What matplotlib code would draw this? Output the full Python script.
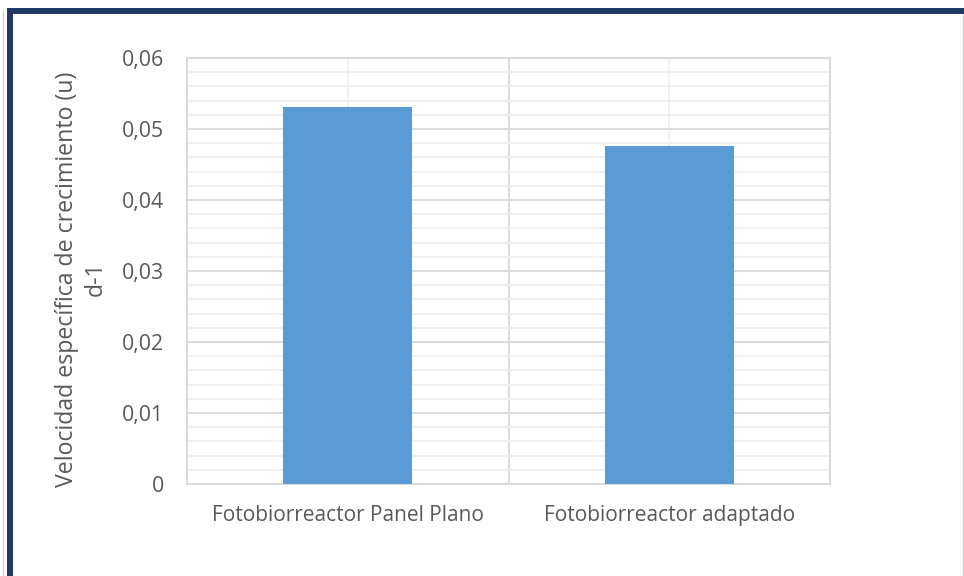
import matplotlib
matplotlib.use("Agg")
import matplotlib.pyplot as plt
from matplotlib.lines import Line2D
from matplotlib.ticker import MultipleLocator, FixedLocator, FuncFormatter

categories = ["Fotobiorreactor Panel Plano", "Fotobiorreactor adaptado"]
growth_rate = [0.0531, 0.0476]
y_ticks = [0, 0.01, 0.02, 0.03, 0.04, 0.05, 0.06]
y_label = "Velocidad específica de crecimiento (u)\nd-1"

plt.rcParams["font.family"] = ["Open Sans", "DejaVu Sans"]
text_color = "#595959"
bar_color = "#5B9BD5"
major_grid = "#D9D9D9"
minor_grid = "#F0F0F0"

W, H = 964, 576
fig = plt.figure(figsize=(W / 100, H / 100), dpi=100)
fig.patch.set_facecolor("white")

left, right, top, bottom = 187, 830, 58, 484
ax = fig.add_axes([left / W, 1 - bottom / H, (right - left) / W, (bottom - top) / H])

x = list(range(len(categories)))
ax.bar(x, growth_rate, width=0.4, color=bar_color, zorder=3)

ax.set_xlim(-0.5, len(categories) - 0.5)
ax.set_ylim(y_ticks[0], y_ticks[-1])

ax.yaxis.set_major_locator(FixedLocator(y_ticks))
ax.yaxis.set_minor_locator(MultipleLocator(0.002))
ax.yaxis.set_major_formatter(FuncFormatter(
    lambda v, p: "0" if abs(v) < 1e-12 else f"{v:.2f}".replace(".", ",")))

ax.xaxis.set_major_locator(FixedLocator(x))
ax.xaxis.set_minor_locator(FixedLocator([-0.5, 0.5, 1.5]))
ax.set_xticklabels(categories)

ax.grid(which="major", axis="y", color=major_grid, linewidth=1.3, zorder=0)
ax.grid(which="minor", axis="y", color=minor_grid, linewidth=1.3, zorder=0)
ax.grid(which="minor", axis="x", color=major_grid, linewidth=1.3, zorder=0)
ax.grid(which="major", axis="x", color=minor_grid, linewidth=1.3, zorder=0)

for s in ax.spines.values():
    s.set_color(major_grid)
    s.set_linewidth(1.3)

ax.tick_params(which="both", length=0)
ax.tick_params(axis="y", labelsize=15.3, colors=text_color, pad=16.5)
ax.tick_params(axis="x", labelsize=15, colors=text_color, pad=15)

ax.set_ylabel(y_label, fontsize=16.7, color=text_color, labelpad=10, linespacing=1.3)
ax.yaxis.label.set_y(0.481)

# Frame around the chart area
def fig_line(x0, y0, x1, y1, color, lw):
    fig.add_artist(Line2D([x0 / W, x1 / W], [1 - y0 / H, 1 - y1 / H],
                          transform=fig.transFigure, color=color, linewidth=lw,
                          solid_capstyle="butt"))

fig_line(3, 10, 3, H, "#D0D0D0", 1.0)
fig_line(W - 1.5, 10, W - 1.5, H, "#D0D0D0", 1.0)
fig_line(7, 10.5, W, 10.5, "#203864", 4.3)
fig_line(10, 8, 10, H, "#203864", 4.3)

fig.savefig("out.png", dpi=100, facecolor="white")
